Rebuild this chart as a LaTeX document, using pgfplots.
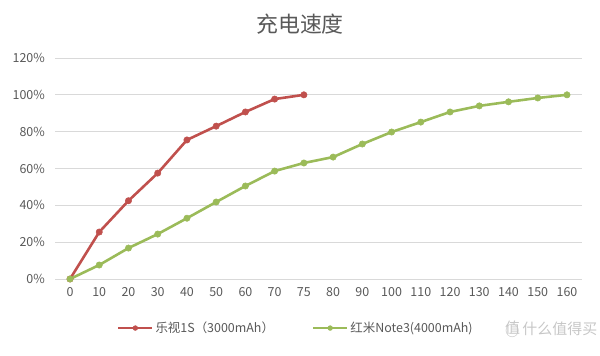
\documentclass[border=0pt]{standalone}
\usepackage{pgfplots}
\pgfplotsset{compat=1.18}
\usepackage{fontspec}
\setmainfont{Noto Sans CJK SC}
\definecolor{redline}{HTML}{C0504D}
\definecolor{greenline}{HTML}{9BBB59}
\definecolor{txt}{HTML}{595959}
\definecolor{gridc}{HTML}{D9D9D9}
\begin{document}
\begin{tikzpicture}
\path[use as bounding box] (-55.4bp,-77bp) rectangle (544.6bp,279bp);
\begin{axis}[
  at={(0,0)}, anchor=south west,
  scale only axis,
  width=526.2bp, height=221bp,
  xmin=-0.5, xmax=17.5,
  ymin=0, ymax=120,
  xtick={0,...,17},
  xticklabels={0,10,20,30,40,50,60,70,75,80,90,100,110,120,130,140,150,160},
  ytick={0,20,...,120},
  yticklabel={\pgfmathprintnumber{\tick}\%},
  /pgf/number format/assume math mode=true,
  ymajorgrids, xmajorgrids=false,
  major grid style={draw=gridc, line width=0.9pt},
  axis line style={draw=none},
  major tick length=0pt,
  tick label style={font=\fontsize{12.5}{14}\selectfont, text=txt},
  yticklabel style={xshift=-7bp},
  xticklabel style={yshift=-5bp},
  clip=false,
  legend style={draw=none, at={(0.457,-0.222)}, anchor=center,
    font=\fontsize{12.5}{14}\selectfont, text=txt,
    /tikz/column 2/.style={column sep=36bp}},
  legend columns=2,
  legend image code/.code={
    \draw[#1, mark=none, line width=2.4pt] (0cm,0cm) -- (1.2cm,0cm);
    \draw[#1, only marks, mark size=2.4pt] plot coordinates {(0.6cm,0cm)};
  },
]
\addplot[redline, line width=2.6pt, mark=*, mark size=3.2pt, mark options={fill=redline, draw=redline, line width=0.5pt}]
  coordinates {(0,0)(1,25.5)(2,42.5)(3,57.5)(4,75.5)(5,83)(6,90.7)(7,97.7)(8,100)};
\addlegendentry{乐视1S（3000mAh）}
\addplot[greenline, line width=2.6pt, mark=*, mark size=3.2pt, mark options={fill=greenline, draw=greenline, line width=0.5pt}]
  coordinates {(0,0)(1,7.6)(2,16.8)(3,24.4)(4,33)(5,41.8)(6,50.5)(7,58.6)(8,63)(9,66.2)(10,73.3)(11,79.8)(12,85.2)(13,90.7)(14,94)(15,96.2)(16,98.3)(17,100)};
\addlegendentry{红米Note3(4000mAh)}
\end{axis}
\node[text=txt, font=\fontsize{22}{26}\selectfont] at (244.6bp,255bp) {充电速度};
\node[text=black!22, font=\fontsize{15}{17}\selectfont, anchor=east, inner sep=1bp] at (543bp,-50bp) {\textcircled{值}\,什么值得买};
\end{tikzpicture}
\end{document}
